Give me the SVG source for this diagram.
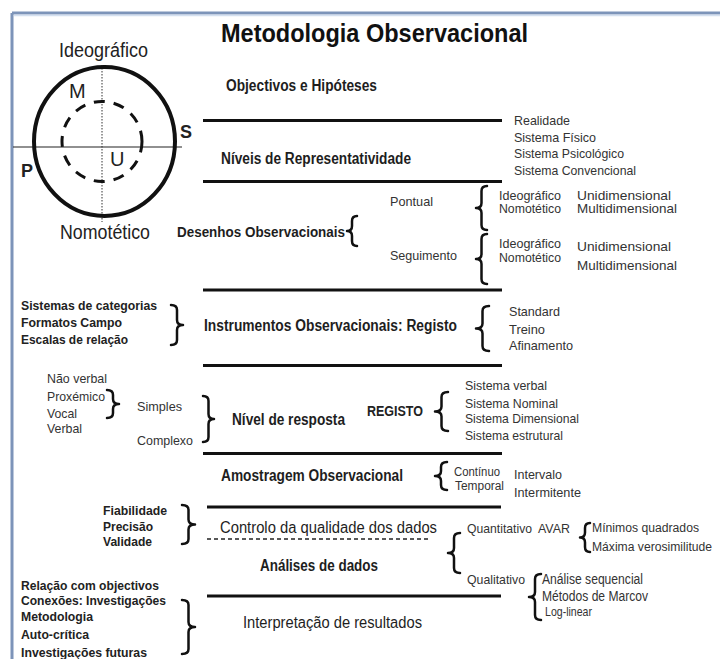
<svg xmlns="http://www.w3.org/2000/svg" width="720" height="659" viewBox="0 0 720 659">
<style>
text{font-family:"Liberation Sans",Arial,sans-serif;fill:#222}
.t{font-size:25px;font-weight:bold;fill:#111}
.m{font-size:16px;font-weight:bold;fill:#1e1e1e}
.mn{font-size:16px;fill:#1e1e1e}
.s{font-size:13px;fill:#333}
.sb{font-size:13px;font-weight:bold;fill:#222}
.c{font-size:20px;fill:#222}
.cb{font-size:18px;font-weight:bold;fill:#222}
.rule{stroke:#111;stroke-width:3;fill:none}
.br{stroke:#111;stroke-width:2.5;fill:none;stroke-linecap:round;stroke-linejoin:round}
</style>
<rect x="0" y="0" width="720" height="659" fill="#fff"/>
<g id="frame">
<line x1="12" y1="13" x2="720" y2="13" stroke="#7d94b9" stroke-width="3"/>
<line x1="12" y1="13" x2="12" y2="659" stroke="#7d94b9" stroke-width="3"/>
<line x1="14" y1="15.5" x2="720" y2="15.5" stroke="#d4e0f0" stroke-width="1.5"/>
</g>
<g id="circle-diagram">
<line x1="13" y1="147" x2="182" y2="147" stroke="#222" stroke-width="1.2"/>
<line x1="102" y1="65" x2="102" y2="222" stroke="#333" stroke-width="1" stroke-dasharray="1.5 1.5"/>
<ellipse cx="104.5" cy="141.5" rx="70.5" ry="74.5" fill="none" stroke="#111" stroke-width="4"/>
<circle cx="102" cy="141.5" r="40" fill="none" stroke="#111" stroke-width="3" stroke-dasharray="11 9"/>
<text class="c" x="59" y="57" textLength="89" lengthAdjust="spacingAndGlyphs">Ideográfico</text>
<text class="c" x="69" y="98">M</text>
<text class="cb" x="180" y="138">S</text>
<text class="cb" x="21" y="177">P</text>
<text class="c" x="110" y="166">U</text>
<text class="c" x="60" y="239" textLength="90" lengthAdjust="spacingAndGlyphs">Nomotético</text>
</g>
<g id="title"><text class="t" x="221" y="42" textLength="307" lengthAdjust="spacingAndGlyphs">Metodologia Observacional</text></g>
<g id="connectors">
<line class="rule" x1="203" y1="120.5" x2="502" y2="120.5"/>
<line class="rule" x1="203" y1="181.5" x2="502" y2="181.5"/>
<line class="rule" x1="203" y1="290" x2="502" y2="290"/>
<line class="rule" x1="203" y1="365.5" x2="502" y2="365.5"/>
<line class="rule" x1="203" y1="453.5" x2="502" y2="453.5"/>
<line class="rule" x1="207" y1="507" x2="501" y2="507"/>
<line x1="207" y1="539" x2="430" y2="539" stroke="#222" stroke-width="1.5" stroke-dasharray="4 3"/>
<line class="rule" x1="207" y1="596" x2="501" y2="596"/>
<path class="br" d="M357 216 Q352 216 352 221 L352 226 Q352 231 347 231 Q352 231 352 236 L352 241 Q352 246 357 246"/>
<path class="br" d="M487 186 Q481.5 186 481.5 191 L481.5 203 Q481.5 208 476 208 Q481.5 208 481.5 213 L481.5 225 Q481.5 230 487 230"/>
<path class="br" d="M487 234 Q481.5 234 481.5 239 L481.5 254 Q481.5 259 476 259 Q481.5 259 481.5 264 L481.5 279 Q481.5 284 487 284"/>
<path class="br" d="M171 305 Q177 305 177 310 L177 320 Q177 325 183 325 Q177 325 177 330 L177 340 Q177 345 171 345"/>
<path class="br" d="M489 306 Q482.5 306 482.5 311 L482.5 323.5 Q482.5 328.5 476 328.5 Q482.5 328.5 482.5 333.5 L482.5 346 Q482.5 351 489 351"/>
<path class="br" d="M107 390 Q113 390 113 395 L113 399 Q113 404 119 404 Q113 404 113 409 L113 413 Q113 418 107 418"/>
<path class="br" d="M203 396 Q208.5 396 208.5 401 L208.5 414 Q208.5 419 214 419 Q208.5 419 208.5 424 L208.5 437 Q208.5 442 203 442"/>
<path class="br" d="M448 392 Q441.5 392 441.5 397 L441.5 406.5 Q441.5 411.5 435 411.5 Q441.5 411.5 441.5 416.5 L441.5 426 Q441.5 431 448 431"/>
<path class="br" d="M447 462 Q441 462 441 467 L441 471 Q441 476 435 476 Q441 476 441 481 L441 485 Q441 490 447 490"/>
<path class="br" d="M182 505 Q188.5 505 188.5 510 L188.5 519.5 Q188.5 524.5 195 524.5 Q188.5 524.5 188.5 529.5 L188.5 539 Q188.5 544 182 544"/>
<path class="br" d="M460 533 Q454 533 454 538 L454 548 Q454 553 448 553 Q454 553 454 558 L454 568 Q454 573 460 573"/>
<path class="br" d="M590 523 Q585 523 585 528 L585 532.5 Q585 537.5 580 537.5 Q585 537.5 585 542.5 L585 547 Q585 552 590 552"/>
<path class="br" d="M541 574 Q535 574 535 579 L535 592 Q535 597 529 597 Q535 597 535 602 L535 615 Q535 620 541 620"/>
<path class="br" d="M182 600 Q188.5 600 188.5 605 L188.5 622 Q188.5 627 195 627 Q188.5 627 188.5 632 L188.5 649 Q188.5 654 182 654"/>
</g>
<g id="objectivos"><text class="m" x="226" y="91" textLength="151" lengthAdjust="spacingAndGlyphs">Objectivos e Hipóteses</text></g>
<g id="niveis-representatividade"><text class="m" x="221" y="164" textLength="190" lengthAdjust="spacingAndGlyphs">Níveis de Representatividade</text></g>
<g id="realidade">
<text class="s" x="514" y="124.5" textLength="56" lengthAdjust="spacingAndGlyphs">Realidade</text>
<text class="s" x="514" y="142" textLength="82" lengthAdjust="spacingAndGlyphs">Sistema Físico</text>
<text class="s" x="514" y="158" textLength="110" lengthAdjust="spacingAndGlyphs">Sistema Psicológico</text>
<text class="s" x="514" y="174.5" textLength="122" lengthAdjust="spacingAndGlyphs">Sistema Convencional</text>
</g>
<g id="desenhos"><text class="m" x="177" y="237" style="font-size:14.5px" textLength="168" lengthAdjust="spacingAndGlyphs">Desenhos Observacionais</text></g>
<g id="pontual">
<text class="s" x="390" y="206" textLength="43" lengthAdjust="spacingAndGlyphs">Pontual</text>
<text class="s" x="499" y="199.5" textLength="62" lengthAdjust="spacingAndGlyphs">Ideográfico</text>
<text class="s" x="499" y="213" textLength="62" lengthAdjust="spacingAndGlyphs">Nomotético</text>
<text class="s" x="577" y="199.5" textLength="94" lengthAdjust="spacingAndGlyphs">Unidimensional</text>
<text class="s" x="577" y="213" textLength="100" lengthAdjust="spacingAndGlyphs">Multidimensional</text>
</g>
<g id="seguimento">
<text class="s" x="390" y="260" textLength="67" lengthAdjust="spacingAndGlyphs">Seguimento</text>
<text class="s" x="499" y="248" textLength="62" lengthAdjust="spacingAndGlyphs">Ideográfico</text>
<text class="s" x="499" y="261.5" textLength="62" lengthAdjust="spacingAndGlyphs">Nomotético</text>
<text class="s" x="577" y="251" textLength="94" lengthAdjust="spacingAndGlyphs">Unidimensional</text>
<text class="s" x="577" y="269.5" textLength="100" lengthAdjust="spacingAndGlyphs">Multidimensional</text>
</g>
<g id="sistemas">
<text class="sb" x="21" y="309.5" textLength="136" lengthAdjust="spacingAndGlyphs">Sistemas de categorias</text>
<text class="sb" x="21" y="327" textLength="101" lengthAdjust="spacingAndGlyphs">Formatos Campo</text>
<text class="sb" x="21" y="343.5" textLength="107" lengthAdjust="spacingAndGlyphs">Escalas de relação</text>
</g>
<g id="instrumentos"><text class="m" x="204" y="331" textLength="253" lengthAdjust="spacingAndGlyphs">Instrumentos Observacionais: Registo</text></g>
<g id="standard">
<text class="s" x="509" y="316" textLength="51" lengthAdjust="spacingAndGlyphs">Standard</text>
<text class="s" x="509" y="334" textLength="36" lengthAdjust="spacingAndGlyphs">Treino</text>
<text class="s" x="509" y="349.5" textLength="64" lengthAdjust="spacingAndGlyphs">Afinamento</text>
</g>
<g id="canais">
<text class="s" x="47" y="383" textLength="60" lengthAdjust="spacingAndGlyphs">Não verbal</text>
<text class="s" x="47" y="401" textLength="58" lengthAdjust="spacingAndGlyphs">Proxémico</text>
<text class="s" x="47" y="418" textLength="30" lengthAdjust="spacingAndGlyphs">Vocal</text>
<text class="s" x="47" y="433" textLength="35" lengthAdjust="spacingAndGlyphs">Verbal</text>
</g>
<g id="simples-complexo">
<text class="s" x="137" y="411" textLength="45" lengthAdjust="spacingAndGlyphs">Simples</text>
<text class="s" x="137" y="444.5" textLength="56" lengthAdjust="spacingAndGlyphs">Complexo</text>
</g>
<g id="nivel-resposta"><text class="m" x="232" y="425" textLength="113" lengthAdjust="spacingAndGlyphs">Nível de resposta</text></g>
<g id="registo"><text class="sb" x="367" y="416" style="font-size:14px" textLength="56" lengthAdjust="spacingAndGlyphs">REGISTO</text></g>
<g id="sistemas-registo">
<text class="s" x="465" y="389.5" textLength="82" lengthAdjust="spacingAndGlyphs">Sistema verbal</text>
<text class="s" x="465" y="408" textLength="93" lengthAdjust="spacingAndGlyphs">Sistema Nominal</text>
<text class="s" x="465" y="423" textLength="114" lengthAdjust="spacingAndGlyphs">Sistema Dimensional</text>
<text class="s" x="465" y="439.5" textLength="98" lengthAdjust="spacingAndGlyphs">Sistema estrutural</text>
</g>
<g id="amostragem"><text class="m" x="221" y="480.5" textLength="182" lengthAdjust="spacingAndGlyphs">Amostragem Observacional</text></g>
<g id="continuo-temporal">
<text class="s" x="454" y="476" style="font-size:12px" textLength="46" lengthAdjust="spacingAndGlyphs">Contínuo</text>
<text class="s" x="455" y="490" style="font-size:12px" textLength="49" lengthAdjust="spacingAndGlyphs">Temporal</text>
<text class="s" x="514" y="478.5" textLength="48" lengthAdjust="spacingAndGlyphs">Intervalo</text>
<text class="s" x="514" y="497" textLength="67" lengthAdjust="spacingAndGlyphs">Intermitente</text>
</g>
<g id="fiabilidade">
<text class="sb" x="103" y="514.5" textLength="64" lengthAdjust="spacingAndGlyphs">Fiabilidade</text>
<text class="sb" x="103" y="531" textLength="50" lengthAdjust="spacingAndGlyphs">Precisão</text>
<text class="sb" x="103" y="546" textLength="49" lengthAdjust="spacingAndGlyphs">Validade</text>
</g>
<g id="controlo"><text class="mn" x="220" y="533" textLength="217" lengthAdjust="spacingAndGlyphs">Controlo da qualidade dos dados</text></g>
<g id="analises"><text class="m" x="260" y="571" textLength="118" lengthAdjust="spacingAndGlyphs">Análises de dados</text></g>
<g id="quantitativo">
<text class="s" x="467" y="532.5" textLength="65" lengthAdjust="spacingAndGlyphs">Quantitativo</text>
<text class="s" x="538" y="532.5" textLength="32" lengthAdjust="spacingAndGlyphs">AVAR</text>
<text class="s" x="592" y="532" style="font-size:12.5px" textLength="107" lengthAdjust="spacingAndGlyphs">Mínimos quadrados</text>
<text class="s" x="592" y="550.5" style="font-size:12.5px" textLength="120" lengthAdjust="spacingAndGlyphs">Máxima verosimilitude</text>
</g>
<g id="qualitativo">
<text class="s" x="467" y="584" textLength="58" lengthAdjust="spacingAndGlyphs">Qualitativo</text>
<text class="s" x="542" y="584" style="font-size:14px" textLength="101" lengthAdjust="spacingAndGlyphs">Análise sequencial</text>
<text class="s" x="542" y="600.5" style="font-size:14px" textLength="106" lengthAdjust="spacingAndGlyphs">Métodos de Marcov</text>
<text class="s" x="545" y="616" style="font-size:13px" textLength="47" lengthAdjust="spacingAndGlyphs">Log-linear</text>
</g>
<g id="relacao">
<text class="sb" x="21" y="589.5" textLength="138" lengthAdjust="spacingAndGlyphs">Relação com objectivos</text>
<text class="sb" x="21" y="605" textLength="145" lengthAdjust="spacingAndGlyphs">Conexões: Investigações</text>
<text class="sb" x="21" y="621" textLength="72" lengthAdjust="spacingAndGlyphs">Metodologia</text>
<text class="sb" x="21" y="638.5" textLength="68" lengthAdjust="spacingAndGlyphs">Auto-crítica</text>
<text class="sb" x="21" y="657" textLength="126" lengthAdjust="spacingAndGlyphs">Investigações futuras</text>
</g>
<g id="interpretacao"><text class="mn" x="243" y="628" textLength="179" lengthAdjust="spacingAndGlyphs">Interpretação de resultados</text></g>
</svg>
